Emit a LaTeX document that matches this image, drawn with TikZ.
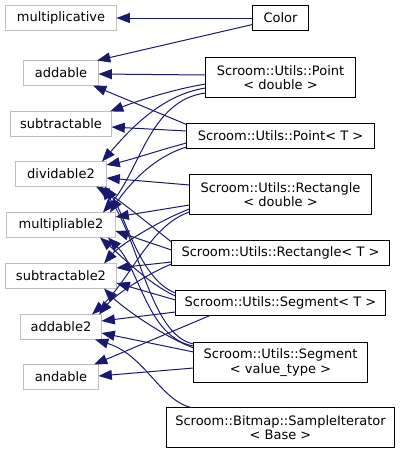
\documentclass[tikz,border=0pt]{standalone}
\usepackage{fontspec}
\setmainfont{DejaVu Sans}
\usetikzlibrary{arrows.meta}
\definecolor{edgeblue}{HTML}{191970}
\definecolor{basegray}{HTML}{BFBFBF}
\begin{document}
\begin{tikzpicture}[x=0.75pt,y=-0.75pt,
  every node/.style={font=\fontsize{9.75}{10.75}\selectfont, inner sep=0pt, outer sep=0pt, align=center},
  sz/.style 2 args={minimum width={#1*0.75pt}, minimum height={#2*0.75pt}},
  basebox/.style={draw=basegray, line width=0.75pt, fill=white},
  derbox/.style={draw=black, line width=0.75pt, fill=white},
  inh/.style={draw=edgeblue, line width=0.75pt, -{Triangle[length=10pt,width=7.5pt]}}]
\useasboundingbox (0,0) rectangle (401,454);
% base classes
\node[basebox, sz={111}{25}] (mult) at (61,18)  {multiplicative};
\node[basebox, sz={75}{25}]  (add)  at (61,73)  {addable};
\node[basebox, sz={101}{25}] (sub)  at (61,124) {subtractable};
\node[basebox, sz={91}{25}]  (div)  at (61,174) {dividable2};
\node[basebox, sz={109}{25}] (mul)  at (61,225) {multipliable2};
\node[basebox, sz={111}{25}] (sub2) at (61,276) {subtractable2};
\node[basebox, sz={81}{25}]  (add2) at (61,327) {addable2};
\node[basebox, sz={75}{25}]  (andb) at (61,377) {andable};
% derived classes
\node[derbox, sz={56}{25}]  (col) at (280.5,18)    {Color};
\node[derbox, sz={150}{40}] (pd)  at (280.5,77.5)  {Scroom::Utils::Point\\< double >};
\node[derbox, sz={188}{25}] (pt)  at (280.5,136)   {Scroom::Utils::Point< T >};
\node[derbox, sz={182}{40}] (rd)  at (280.5,194.5) {Scroom::Utils::Rectangle\\< double >};
\node[derbox, sz={218}{25}] (rt)  at (280.5,253)   {Scroom::Utils::Rectangle< T >};
\node[derbox, sz={210}{25}] (st)  at (280.5,303)   {Scroom::Utils::Segment< T >};
\node[derbox, sz={174}{40}] (sv)  at (280.5,362.5) {Scroom::Utils::Segment\\< value\_type >};
\node[derbox, sz={228}{40}] (si)  at (280.5,427.5) {Scroom::Bitmap::SampleIterator\\< Base >};
% Color
\draw[inh] (col.west |- 0,18) -- (mult.east |- 0,18);
\draw[inh] (col.west |- 0,24.5) -- (add.north -| 97,0);
% Point< double >
\draw[inh] (pd.west |- 0,75) -- (add.east |- 0,74);
\draw[inh] (pd.west |- 0,84) .. controls (175,89) and (140,100) .. (sub.north -| 110,0);
\draw[inh] (pd.west |- 0,88) .. controls (160,95) and (128,132) .. (div.north -| 102,0);
\draw[inh] (pd.west |- 0,93) .. controls (150,100) and (140,170) .. (mul.north -| 103,0);
% Point< T >
\draw[inh] (pt.west |- 0,124.5) -- (add.south -| 93,0);
\draw[inh] (pt.west |- 0,131) -- (sub.east |- 0,127);
\draw[inh] (pt.west |- 0,143) .. controls (160,150) and (130,160) .. (div.east |- 0,165);
\draw[inh] (pt.west |- 0,147) .. controls (150,158) and (125,190) .. (mul.north -| 110,0);
% Rectangle< double >
\draw[inh] (rd.west |- 0,185) -- (div.east |- 0,178);
\draw[inh] (rd.west |- 0,205) -- (mul.east |- 0,217);
\draw[inh] (rd.west |- 0,209) .. controls (160,220) and (120,245) .. (sub2.north -| 104,0);
\draw[inh] (rd.west |- 0,212) .. controls (150,225) and (130,280) .. (add2.north -| 92,0);
% Rectangle< T >
\draw[inh] (rt.west |- 0,242) .. controls (150,225) and (120,200) .. (div.south -| 96,0);
\draw[inh] (rt.west |- 0,250) -- (mul.east |- 0,231);
\draw[inh] (rt.west |- 0,262) -- (sub2.east |- 0,268);
\draw[inh] (rt.west |- 0,264) .. controls (145,275) and (115,295) .. (add2.north -| 99,0);
% Segment< T >
\draw[inh] (st.west |- 0,293) .. controls (140,280) and (125,215) .. (div.south -| 105,0);
\draw[inh] (st.west |- 0,296) .. controls (150,285) and (120,255) .. (mul.south -| 100,0);
\draw[inh] (st.west |- 0,300) -- (sub2.east |- 0,283);
\draw[inh] (st.west |- 0,312) -- (add2.east |- 0,321);
\draw[inh] (st.south -| 210,0) -- (andb.north -| 94,0);
% Segment< value_type >
\draw[inh] (sv.west |- 0,344) .. controls (150,335) and (140,240) .. (div.south -| 101,0);
\draw[inh] (sv.west |- 0,346) .. controls (148,338) and (140,270) .. (mul.south -| 108,0);
\draw[inh] (sv.west |- 0,348) .. controls (160,335) and (120,305) .. (sub2.south -| 104,0);
\draw[inh] (sv.west |- 0,352) -- (add2.east |- 0,333);
\draw[inh] (sv.west |- 0,368) -- (andb.east |- 0,376);
% SampleIterator
\draw[inh] (si.north -| 191,0) .. controls (160,400) and (145,355) .. (add2.south -| 95,0);
\end{tikzpicture}
\end{document}
